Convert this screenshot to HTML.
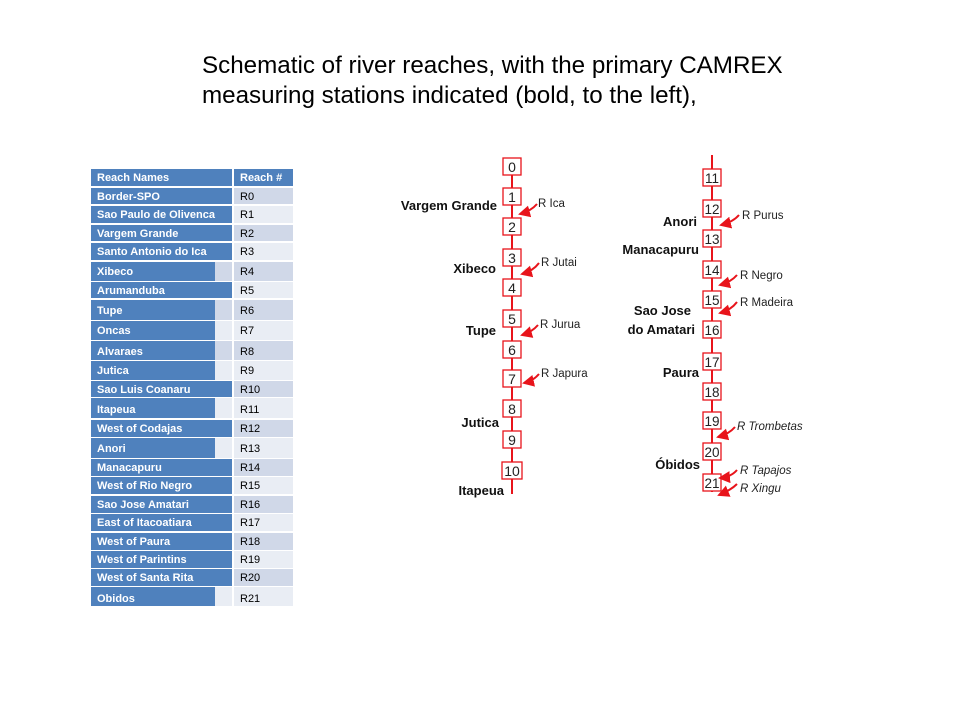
<!DOCTYPE html>
<html><head><meta charset="utf-8"><style>
body{margin:0;background:#fff;width:960px;height:720px;overflow:hidden;position:relative;font-family:"Liberation Sans",sans-serif}
.t{position:absolute;left:202px;top:51px;font-size:24.2px;line-height:30px;color:#000}
svg{position:absolute;left:0;top:0}
</style></head><body>
<div class="t">Schematic of river reaches, with the primary CAMREX<br>measuring stations indicated (bold, to the left),</div>
<svg width="960" height="720" xmlns="http://www.w3.org/2000/svg" font-family="Liberation Sans, sans-serif">
<defs><marker id="a" markerWidth="6" markerHeight="6" refX="5" refY="3" orient="auto"><path d="M0,0 L6,3 L0,6 z" fill="#e8141b"/></marker></defs>
<g font-size="11" font-weight="bold" fill="#fff">
<rect x="91" y="169" width="141" height="17" fill="#4f81bd"/><rect x="234" y="169" width="59" height="17" fill="#4f81bd"/>
<text x="97" y="181">Reach Names</text><text x="240" y="181">Reach #</text>
</g>
<g id="tbl" font-size="11">
<rect x="91" y="188" width="141" height="16" fill="#4f81bd"/><rect x="234" y="188" width="59" height="16" fill="#d0d8e8"/>
<rect x="91" y="206" width="141" height="17" fill="#4f81bd"/><rect x="234" y="206" width="59" height="17" fill="#e9edf4"/>
<rect x="91" y="225" width="141" height="16" fill="#4f81bd"/><rect x="234" y="225" width="59" height="16" fill="#d0d8e8"/>
<rect x="91" y="243" width="141" height="17" fill="#4f81bd"/><rect x="234" y="243" width="59" height="17" fill="#e9edf4"/>
<rect x="91" y="262" width="124" height="19" fill="#4f81bd"/><rect x="215" y="262" width="17" height="19" fill="#d0d8e8"/><rect x="234" y="262" width="59" height="19" fill="#d0d8e8"/>
<rect x="91" y="282" width="141" height="16" fill="#4f81bd"/><rect x="234" y="282" width="59" height="16" fill="#e9edf4"/>
<rect x="91" y="300" width="124" height="20" fill="#4f81bd"/><rect x="215" y="300" width="17" height="20" fill="#d0d8e8"/><rect x="234" y="300" width="59" height="20" fill="#d0d8e8"/>
<rect x="91" y="321" width="124" height="19" fill="#4f81bd"/><rect x="215" y="321" width="17" height="19" fill="#e9edf4"/><rect x="234" y="321" width="59" height="19" fill="#e9edf4"/>
<rect x="91" y="341" width="124" height="19" fill="#4f81bd"/><rect x="215" y="341" width="17" height="19" fill="#d0d8e8"/><rect x="234" y="341" width="59" height="19" fill="#d0d8e8"/>
<rect x="91" y="361" width="124" height="19" fill="#4f81bd"/><rect x="215" y="361" width="17" height="19" fill="#e9edf4"/><rect x="234" y="361" width="59" height="19" fill="#e9edf4"/>
<rect x="91" y="381" width="141" height="16" fill="#4f81bd"/><rect x="234" y="381" width="59" height="16" fill="#d0d8e8"/>
<rect x="91" y="398" width="124" height="20" fill="#4f81bd"/><rect x="215" y="398" width="17" height="20" fill="#e9edf4"/><rect x="234" y="398" width="59" height="20" fill="#e9edf4"/>
<rect x="91" y="420" width="141" height="17" fill="#4f81bd"/><rect x="234" y="420" width="59" height="17" fill="#d0d8e8"/>
<rect x="91" y="438" width="124" height="20" fill="#4f81bd"/><rect x="215" y="438" width="17" height="20" fill="#e9edf4"/><rect x="234" y="438" width="59" height="20" fill="#e9edf4"/>
<rect x="91" y="459" width="141" height="17" fill="#4f81bd"/><rect x="234" y="459" width="59" height="17" fill="#d0d8e8"/>
<rect x="91" y="477" width="141" height="17" fill="#4f81bd"/><rect x="234" y="477" width="59" height="17" fill="#e9edf4"/>
<rect x="91" y="496" width="141" height="17" fill="#4f81bd"/><rect x="234" y="496" width="59" height="17" fill="#d0d8e8"/>
<rect x="91" y="514" width="141" height="17" fill="#4f81bd"/><rect x="234" y="514" width="59" height="17" fill="#e9edf4"/>
<rect x="91" y="533" width="141" height="17" fill="#4f81bd"/><rect x="234" y="533" width="59" height="17" fill="#d0d8e8"/>
<rect x="91" y="551" width="141" height="17" fill="#4f81bd"/><rect x="234" y="551" width="59" height="17" fill="#e9edf4"/>
<rect x="91" y="569" width="141" height="17" fill="#4f81bd"/><rect x="234" y="569" width="59" height="17" fill="#d0d8e8"/>
<rect x="91" y="587" width="124" height="19" fill="#4f81bd"/><rect x="215" y="587" width="17" height="19" fill="#e9edf4"/><rect x="234" y="587" width="59" height="19" fill="#e9edf4"/>
<g fill="#fff" font-weight="bold">
<text x="97" y="200">Border-SPO</text><text x="97" y="218">Sao Paulo de Olivenca</text><text x="97" y="237">Vargem Grande</text><text x="97" y="255">Santo Antonio do Ica</text><text x="97" y="275">Xibeco</text><text x="97" y="294">Arumanduba</text><text x="97" y="314">Tupe</text><text x="97" y="334">Oncas</text><text x="97" y="355">Alvaraes</text><text x="97" y="374">Jutica</text><text x="97" y="393">Sao Luis Coanaru</text><text x="97" y="413">Itapeua</text><text x="97" y="432">West of Codajas</text><text x="97" y="452">Anori</text><text x="97" y="471">Manacapuru</text><text x="97" y="489">West of Rio Negro</text><text x="97" y="508">Sao Jose Amatari</text><text x="97" y="526">East of Itacoatiara</text><text x="97" y="545">West of Paura</text><text x="97" y="563">West of Parintins</text><text x="97" y="581">West of Santa Rita</text><text x="97" y="602">Obidos</text>
</g>
<g fill="#000">
<text x="240" y="200">R0</text><text x="240" y="218">R1</text><text x="240" y="237">R2</text><text x="240" y="255">R3</text><text x="240" y="275">R4</text><text x="240" y="294">R5</text><text x="240" y="314">R6</text><text x="240" y="334">R7</text><text x="240" y="355">R8</text><text x="240" y="374">R9</text><text x="240" y="393">R10</text><text x="240" y="413">R11</text><text x="240" y="432">R12</text><text x="240" y="452">R13</text><text x="240" y="471">R14</text><text x="240" y="489">R15</text><text x="240" y="508">R16</text><text x="240" y="526">R17</text><text x="240" y="545">R18</text><text x="240" y="563">R19</text><text x="240" y="581">R20</text><text x="240" y="602">R21</text>
</g>
</g>
<line x1="512" y1="175" x2="512" y2="494" stroke="#e8141b" stroke-width="2"/>
<line x1="712" y1="155" x2="712" y2="492" stroke="#e8141b" stroke-width="2"/>
<g fill="#fff" stroke="#e8141b" stroke-width="1.3">
<rect x="503" y="158" width="18" height="17"/><rect x="503" y="188" width="18" height="17"/><rect x="503" y="218" width="18" height="17"/><rect x="503" y="249" width="18" height="17"/><rect x="503" y="279" width="18" height="17"/><rect x="503" y="310" width="18" height="17"/><rect x="503" y="341" width="18" height="17"/><rect x="503" y="370" width="18" height="17"/><rect x="503" y="400" width="18" height="17"/><rect x="503" y="431" width="18" height="17"/><rect x="502" y="462" width="20" height="17"/>
<rect x="703" y="169" width="18" height="17"/><rect x="703" y="200" width="18" height="17"/><rect x="703" y="230" width="18" height="17"/><rect x="703" y="261" width="18" height="17"/><rect x="703" y="291" width="18" height="17"/><rect x="703" y="321" width="18" height="17"/><rect x="703" y="353" width="18" height="17"/><rect x="703" y="383" width="18" height="17"/><rect x="703" y="412" width="18" height="17"/><rect x="703" y="443" width="18" height="17"/><rect x="703" y="474" width="18" height="17"/>
</g>
<g font-size="14" text-anchor="middle" fill="#222">
<text x="512" y="172">0</text><text x="512" y="202">1</text><text x="512" y="232">2</text><text x="512" y="263">3</text><text x="512" y="293">4</text><text x="512" y="324">5</text><text x="512" y="355">6</text><text x="512" y="384">7</text><text x="512" y="414">8</text><text x="512" y="445">9</text><text x="512" y="476">10</text>
</g>
<g font-size="13.5" text-anchor="middle" fill="#222">
<text x="712" y="183">11</text><text x="712" y="214">12</text><text x="712" y="244">13</text><text x="712" y="275">14</text><text x="712" y="305">15</text><text x="712" y="335">16</text><text x="712" y="367">17</text><text x="712" y="397">18</text><text x="712" y="426">19</text><text x="712" y="457">20</text><text x="712" y="488">21</text>
</g>
<g font-size="13" font-weight="bold" fill="#111" text-anchor="end">
<text x="497" y="210">Vargem Grande</text><text x="496" y="273">Xibeco</text><text x="496" y="335">Tupe</text><text x="499" y="427">Jutica</text><text x="504" y="495">Itapeua</text>
<text x="697" y="226">Anori</text><text x="699" y="254">Manacapuru</text><text x="691" y="315">Sao Jose</text><text x="695" y="334">do Amatari</text><text x="699" y="377">Paura</text><text x="700" y="469">Óbidos</text>
</g>
<g font-size="11.5" fill="#222">
<text x="538" y="207">R Ica</text><text x="541" y="266">R Jutai</text><text x="540" y="328">R Jurua</text><text x="541" y="377">R Japura</text>
<text x="742" y="219">R Purus</text><text x="740" y="279">R Negro</text><text x="740" y="306">R Madeira</text>
<g font-style="italic"><text x="737" y="430">R Trombetas</text><text x="740" y="474">R Tapajos</text><text x="740" y="492">R Xingu</text></g>
</g>
<g fill="none" stroke="#e8141b" stroke-width="2" marker-end="url(#a)">
<path d="M537,204 Q531,211 520,214"/><path d="M539,263 Q533,271 522,274"/><path d="M538,325 Q532,332 522,335"/><path d="M539,374 Q533,381 524,383"/>
<path d="M739,215 Q733,222 721,225"/><path d="M737,275 Q731,282 720,285"/><path d="M737,302 Q731,310 720,313"/>
<path d="M735,427 Q729,434 718,437"/><path d="M737,470 Q731,477 720,478"/><path d="M737,484 Q731,490 719,495"/>
</g>
</svg>
</body></html>
